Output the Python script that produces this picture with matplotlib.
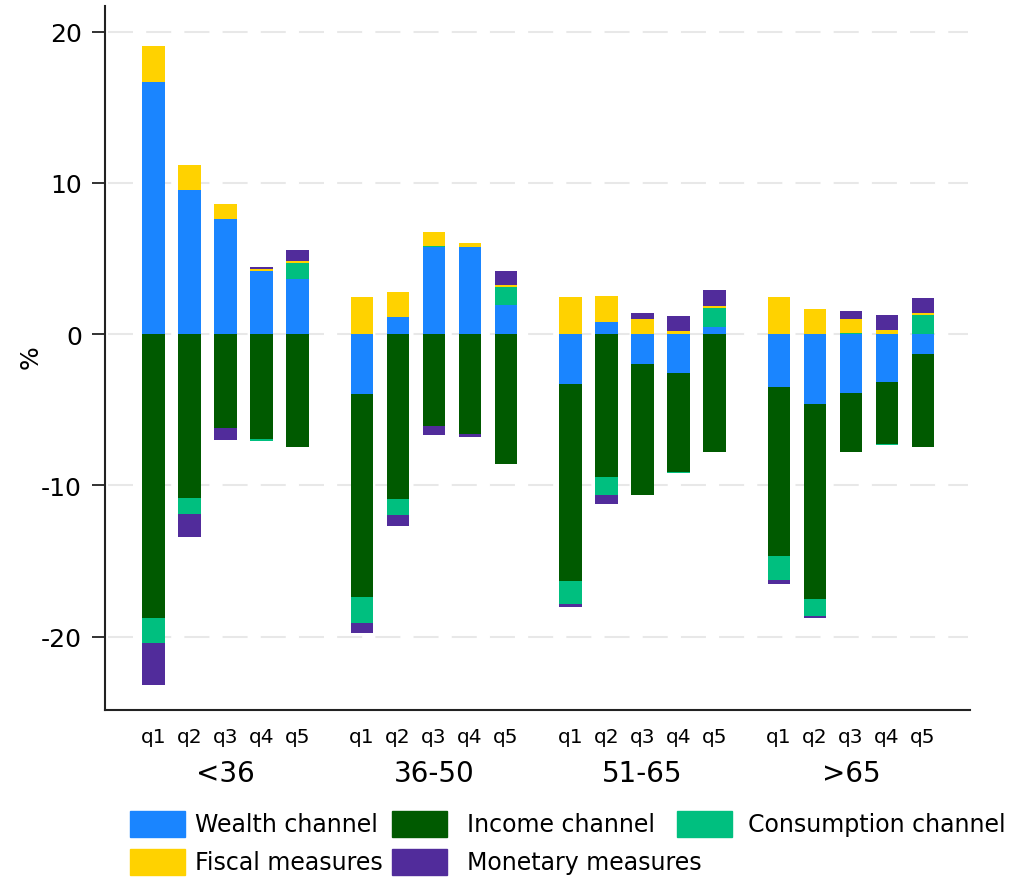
import numpy as np
import matplotlib
matplotlib.use('Agg')
import matplotlib.pyplot as plt
from matplotlib.patches import Rectangle

plt.rcParams['font.family'] = ['DejaVu Sans']
plt.rcParams['lines.scale_dashes'] = False

age_groups = ['<36', '36-50', '51-65', '>65']
quintiles = ['q1', 'q2', 'q3', 'q4', 'q5']

# effects in %, one row per age group, columns q1..q5
wealth = [[16.65, 9.53, 7.64, 4.15, 3.63],
          [-3.94, 1.15, 5.75, 5.75, 1.94],
          [-3.33, 0.79, -2.00, -2.60, 0.46],
          [-3.48, -4.63, -3.88, -3.15, -1.30]]
income = [[-18.80, -10.84, -6.18, -6.95, -7.47],
          [-13.44, -10.88, -6.06, -6.59, -8.59],
          [-12.99, -9.45, -8.62, -6.50, -7.80],
          [-11.19, -12.90, -3.94, -4.10, -6.14]]
consumption = [[-1.60, -1.03, 0.00, -0.10, 1.06],
               [-1.72, -1.10, 0.07, 0.00, 1.19],
               [-1.54, -1.17, 0.03, -0.11, 1.28],
               [-1.61, -1.10, 0.04, -0.08, 1.23]]
fiscal = [[2.43, 1.63, 0.94, 0.17, 0.14],
          [2.44, 1.60, 0.90, 0.26, 0.13],
          [2.42, 1.74, 0.95, 0.22, 0.11],
          [2.47, 1.65, 0.95, 0.24, 0.13]]
monetary = [[-2.78, -1.58, -0.83, 0.14, 0.71],
            [-0.64, -0.69, -0.59, -0.20, 0.93],
            [-0.22, -0.61, 0.42, 0.97, 1.06],
            [-0.26, -0.16, 0.53, 0.99, 1.03]]

series = [('Wealth channel', wealth, '#1a85ff'),
          ('Income channel', income, '#005a00'),
          ('Consumption channel', consumption, '#00bf7f'),
          ('Fiscal measures', fiscal, '#ffd200'),
          ('Monetary measures', monetary, '#512c9b')]

group_step = 5.79
bar_w = 0.625
xpos = np.array([[g * group_step + i for i in range(5)] for g in range(4)])

fig = plt.figure(figsize=(10.15, 8.79), dpi=100)
ax = fig.add_axes([0.1034, 0.1911, 0.8523, 0.8009])

# stack positives upward and negatives downward, separately
pos_base = np.zeros((4, 5))
neg_base = np.zeros((4, 5))
for name, vals, col in series:
    v = np.array(vals)
    base = np.where(v >= 0, pos_base, neg_base)
    ax.bar(xpos.ravel(), v.ravel(), bar_w, bottom=base.ravel(), color=col,
           edgecolor='none', zorder=3)
    pos_base += np.clip(v, 0, None)
    neg_base += np.clip(v, None, 0)

for yv in [20, 10, 0, -10, -20]:
    ax.axhline(yv, xmin=0.004, xmax=0.998, color='#e8e8e8', lw=1.5,
               linestyle=(0, (18, 9.5)), zorder=1)

ax.set_xlim(-1.347, 22.68)
ax.set_ylim(-24.86, 21.69)
ax.set_yticks([20, 10, 0, -10, -20])
ax.set_yticklabels(['20', '10', '0', '-10', '-20'], fontsize=18)
ax.tick_params(axis='y', length=9.5, width=1.3, pad=7, color='#222222')
ax.set_xticks([])
for s in ['top', 'right']:
    ax.spines[s].set_visible(False)
for s in ['left', 'bottom']:
    ax.spines[s].set_linewidth(1.5)
    ax.spines[s].set_color('#222222')
fig.text(31 / 1015, 1 - 357 / 879, '%', rotation=90, ha='center', va='center',
         fontsize=18)

# quintile and age group labels under the bars
for g in range(4):
    for i, q in enumerate(quintiles):
        ax.text(xpos[g, i], -0.037, q, transform=ax.get_xaxis_transform(),
                ha='center', va='center', fontsize=14.5)
    ax.text(xpos[g, 2], -0.0895, age_groups[g], transform=ax.get_xaxis_transform(),
            ha='center', va='center', fontsize=20)

# legend laid out in two rows
leg_cells = [(130, 825, 0, 195), (392, 825, 1, 467), (677, 825, 2, 748),
             (130, 863, 3, 195), (392, 863, 4, 467)]
for x0, yc, k, tx in leg_cells:
    name, _, col = series[k]
    fig.add_artist(Rectangle((x0 / 1015, 1 - (yc + 13) / 879), 55 / 1015, 26 / 879,
                             transform=fig.transFigure, color=col))
    fig.text(tx / 1015, 1 - yc / 879, name, ha='left', va='center', fontsize=17)

fig.savefig('out.png', dpi=100, facecolor='white')
